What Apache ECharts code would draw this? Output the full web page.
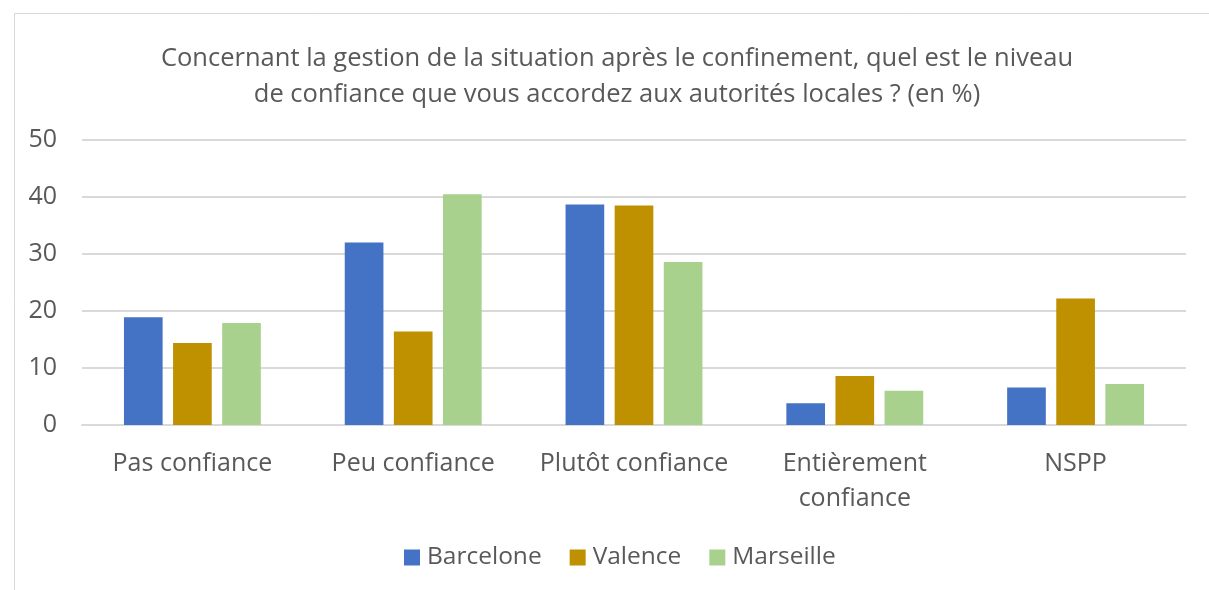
<!DOCTYPE html>
<html>
<head>
<meta charset="utf-8">
<script src="https://cdn.jsdelivr.net/npm/echarts@6/dist/echarts.min.js"></script>
<style>
  html, body { margin: 0; padding: 0; background: #ffffff; }
  #chart { width: 1209px; height: 590px; }
</style>
</head>
<body>
<div id="chart"></div>
<script>
// Confidence levels in local authorities after lockdown (in %)
const categories = ['Pas confiance', 'Peu confiance', 'Plutôt confiance', 'Entièrement\nconfiance', 'NSPP'];
const barcelone = [18.9, 32.0, 38.7, 3.8, 6.6];
const valence   = [14.4, 16.4, 38.5, 8.6, 22.2];
const marseille = [17.9, 40.5, 28.6, 6.0, 7.2];
const yTicks = [0, 10, 20, 30, 40, 50];

const FONT = 'Open Sans';
const TEXT = '#595959';
const GRID = '#d9d9d9';

const chart = echarts.init(document.getElementById('chart'), null, { renderer: 'canvas' });

function barSeries(name, data, color) {
  return {
    name: name,
    type: 'bar',
    data: data,
    barGap: '27%',
    barCategoryGap: '38%',
    itemStyle: { color: color },
    emphasis: { disabled: true }
  };
}

chart.setOption({
  animation: false,
  backgroundColor: '#ffffff',
  textStyle: { fontFamily: FONT },
  graphic: [{
    type: 'rect',
    shape: { x: 14.5, y: 13.5, width: 1300, height: 700 },
    style: { fill: 'none', stroke: GRID, lineWidth: 1 },
    silent: true,
    z: -1
  }],
  title: {
    text: 'Concernant la gestion de la situation après le confinement, quel est le niveau\nde confiance que vous accordez aux autorités locales ? (en %)',
    left: 612,
    textAlign: 'center',
    top: 36,
    textStyle: {
      fontFamily: FONT,
      fontSize: 25.5,
      fontWeight: 'normal',
      color: TEXT,
      lineHeight: 36,
      align: 'center'
    }
  },
  legend: {
    bottom: 15,
    left: 399,
    itemWidth: 16,
    itemHeight: 16,
    itemGap: 28,
    icon: 'rect',
    textStyle: { fontFamily: FONT, fontSize: 24.5, color: TEXT, padding: [0, 0, 0, 2] },
    data: ['Barcelone', 'Valence', 'Marseille']
  },
  grid: { left: 82, right: 23, top: 140, bottom: 165, containLabel: false },
  xAxis: {
    type: 'category',
    data: categories,
    axisLine: { show: true, lineStyle: { color: GRID, width: 2 } },
    axisTick: { show: false },
    axisLabel: {
      color: TEXT,
      fontFamily: FONT,
      fontSize: 25,
      margin: 21,
      lineHeight: 35,
      interval: 0
    }
  },
  yAxis: {
    type: 'value',
    min: yTicks[0],
    max: yTicks[yTicks.length - 1],
    interval: 10,
    axisLine: { show: false },
    axisTick: { show: false },
    splitLine: { lineStyle: { color: GRID, width: 2 } },
    axisLabel: { color: TEXT, fontFamily: FONT, fontSize: 25, margin: 25 }
  },
  series: [
    barSeries('Barcelone', barcelone, '#4472c4'),
    barSeries('Valence', valence, '#bf9000'),
    barSeries('Marseille', marseille, '#a9d18e')
  ]
});
</script>
</body>
</html>
